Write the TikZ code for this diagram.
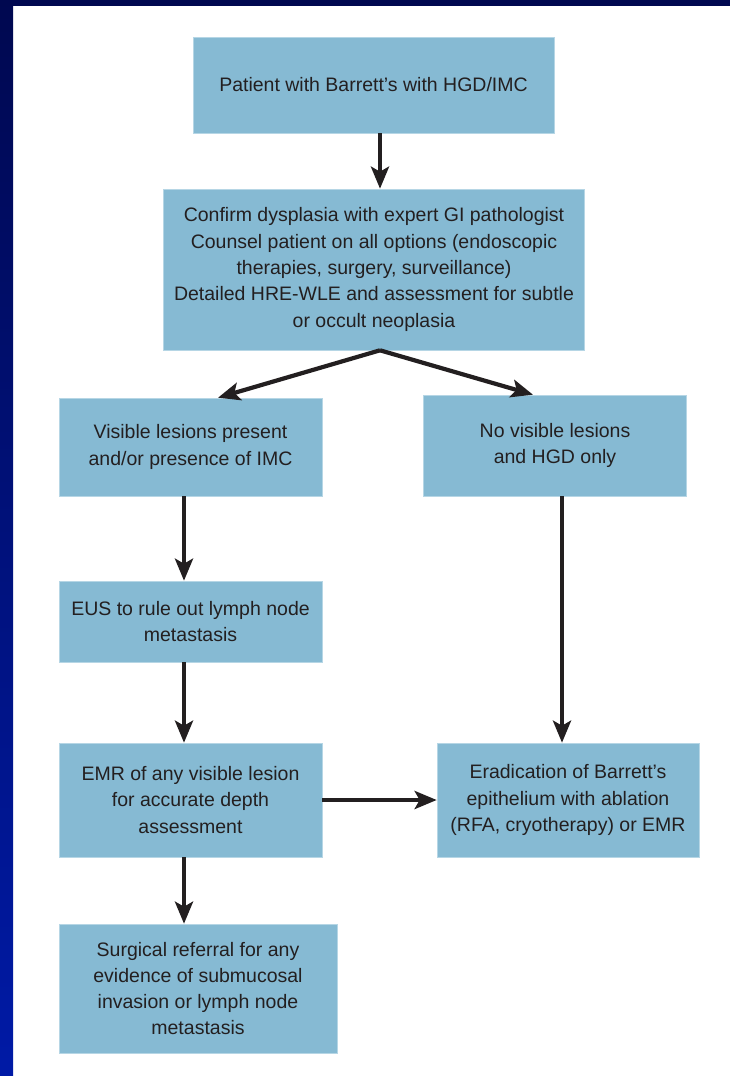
\documentclass[tikz,border=0pt]{standalone}
\usepackage{fontspec}
\setmainfont{Liberation Sans}
\usetikzlibrary{arrows.meta}
\definecolor{boxfill}{HTML}{86BAD3}
\definecolor{ink}{HTML}{231F20}
\definecolor{navy}{HTML}{000850}
\definecolor{royal}{HTML}{001AA6}
\begin{document}
\begin{tikzpicture}[x=1pt,y=-1pt,
  flowbox/.style={fill=boxfill, draw=boxfill!60!white, line width=0.6pt,
    align=center, text=ink, inner sep=0pt,
    font=\fontsize{19.5}{26.3}\selectfont},
  flowarrow/.style={draw=ink, line width=4.2pt,
    -{Stealth[length=22pt,width=18pt,inset=5pt]}}]

% page frame: white sheet with dark band on top and shaded band on the left
\useasboundingbox (0,0) rectangle (730,1076);
\fill[white] (0,0) rectangle (730,1076);
\shade[top color=navy, bottom color=royal] (0,0) rectangle (13,1076);
\fill[navy] (0,0) rectangle (730,6);

% boxes
\node[flowbox, minimum width=361pt, minimum height=96pt] (start) at (373.5,85)
  {Patient with Barrett’s with HGD/IMC};
\node[flowbox, minimum width=421pt, minimum height=161pt] (confirm) at (374,269.5)
  {Confirm dysplasia with expert GI pathologist\\
   Counsel patient on all options (endoscopic\\
   therapies, surgery, surveillance)\\
   Detailed HRE-WLE and assessment for subtle\\
   or occult neoplasia};
\node[flowbox, minimum width=263pt, minimum height=98pt] (visible) at (190.5,447)
  {Visible lesions present\\ and/or presence of IMC};
\node[flowbox, minimum width=263pt, minimum height=101pt] (novisible) at (555,445.5)
  {No visible lesions\\ and HGD only};
\node[flowbox, minimum width=263pt, minimum height=81pt] (eus) at (190.5,621.5)
  {EUS to rule out lymph node\\ metastasis};
\node[flowbox, minimum width=263pt, minimum height=114pt] (emr) at (190.5,800)
  {EMR of any visible lesion\\ for accurate depth\\ assessment};
\node[flowbox, minimum width=262pt, minimum height=114pt] (erad) at (568,800)
  {Eradication of Barrett’s\\ epithelium with ablation\\ (RFA, cryotherapy) or EMR};
\node[flowbox, minimum width=278pt, minimum height=129pt] (surg) at (198,988.5)
  {Surgical referral for any\\ evidence of submucosal\\ invasion or lymph node\\ metastasis};

% guide lines for the arrows
\coordinate (midaxis) at (380,0);
\coordinate (leftaxis) at (184,0);
\coordinate (rightaxis) at (562,0);
\coordinate (lefttip) at (218,0);
\coordinate (righttip) at (533,0);

% connectors
\draw[flowarrow] (start.south -| midaxis) -- (confirm.north -| midaxis);
\draw[flowarrow] (confirm.south -| midaxis) -- (visible.north -| lefttip);
\draw[flowarrow] (confirm.south -| midaxis) -- (novisible.north -| righttip);
\draw[flowarrow] (visible.south -| leftaxis) -- (eus.north -| leftaxis);
\draw[flowarrow] (eus.south -| leftaxis) -- (emr.north -| leftaxis);
\draw[flowarrow] (emr.south -| leftaxis) -- (surg.north -| leftaxis);
\draw[flowarrow] (emr.east) -- (erad.west);
\draw[flowarrow] (novisible.south -| rightaxis) -- (erad.north -| rightaxis);
\end{tikzpicture}
\end{document}
